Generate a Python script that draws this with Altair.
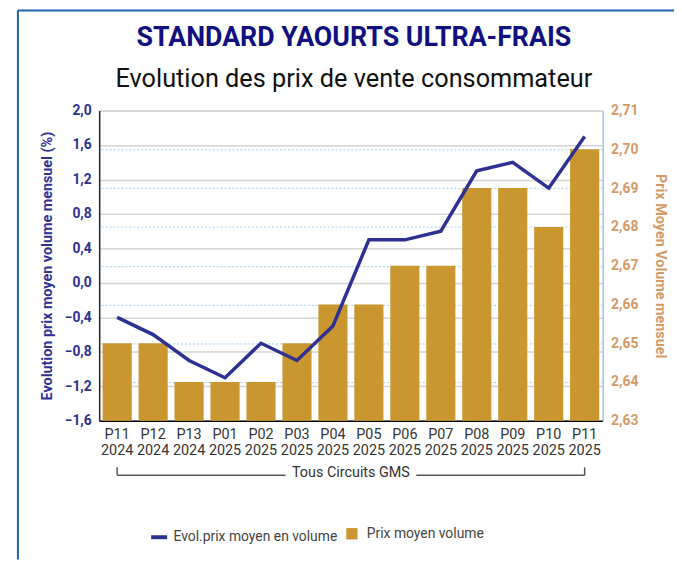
import altair as alt
import pandas as pd

# ---- data ----
periods = ["P11 2024", "P12 2024", "P13 2024", "P01 2025", "P02 2025", "P03 2025",
           "P04 2025", "P05 2025", "P06 2025", "P07 2025", "P08 2025", "P09 2025",
           "P10 2025", "P11 2025"]
evol_pct = [-0.4, -0.6, -0.9, -1.1, -0.7, -0.9, -0.5, 0.5, 0.5, 0.6, 1.3, 1.4, 1.1, 1.7]
prix_moyen = [2.65, 2.65, 2.64, 2.64, 2.64, 2.65, 2.66, 2.66, 2.67, 2.67, 2.69, 2.69, 2.68, 2.70]
left_ticks = [-1.6, -1.2, -0.8, -0.4, 0.0, 0.4, 0.8, 1.2, 1.6, 2.0]
right_ticks = [2.63, 2.64, 2.65, 2.66, 2.67, 2.68, 2.69, 2.70, 2.71]
line_name = "Evol.prix moyen en volume"
bar_name = "Prix moyen volume"
group_label = "Tous Circuits GMS"
title_text = "STANDARD YAOURTS ULTRA-FRAIS"
subtitle_text = "Evolution des prix de vente consommateur"

df = pd.DataFrame({
    "period": periods,
    "evol": evol_pct,
    "prix": prix_moyen,
    "s_line": [line_name] * len(periods),
    "s_bar": [bar_name] * len(periods),
})

W, H = 508, 313
NAVY = "#2e3192"
GOLD = "#c9962f"
TAN = "#d49a66"
FONT = "Roboto"

x_enc = alt.X(
    "period:N", sort=periods,
    scale=alt.Scale(paddingInner=0.19, paddingOuter=0.095),
    axis=alt.Axis(title=None, labelAngle=0, labelExpr="split(datum.value, ' ')",
                  labelFontSize=14.5, labelColor="#333333", labelFont=FONT,
                  labelLineHeight=16, labelPadding=7, ticks=False,
                  domainColor="#000000", domainWidth=1.5, grid=False),
)

bars = alt.Chart(df).mark_bar(color=GOLD).encode(
    x=x_enc,
    y=alt.Y("prix:Q",
            scale=alt.Scale(domain=[right_ticks[0], right_ticks[-1]], nice=False, zero=False),
            axis=alt.Axis(orient="right", values=right_ticks,
                          labelExpr="replace(format(datum.value, '.2f'), '.', ',')",
                          title="Prix Moyen Volume mensuel", titleColor=TAN,
                          titleFontSize=14.5, titleFontWeight="bold", titleFont=FONT,
                          titlePadding=15,
                          labelColor=TAN, labelFontSize=14, labelFontWeight="bold",
                          labelFont=FONT, labelPadding=8, ticks=False,
                          domainColor="#9fcbf2", domainWidth=1.5,
                          grid=True, gridColor="#9fcbf2", gridDash=[2, 2], gridWidth=1)),
    y2=alt.datum(right_ticks[0]),
    color=alt.Color("s_bar:N", scale=alt.Scale(domain=[bar_name], range=[GOLD]),
                    legend=alt.Legend(orient="none", legendX=248, legendY=420, title=None,
                                      symbolType="square", symbolSize=130, padding=0,
                                      labelOffset=8, labelFontSize=14, labelColor="#444444",
                                      labelFont=FONT, labelLimit=400)),
)

line = alt.Chart(df).mark_line(strokeWidth=3.5).encode(
    x=x_enc,
    y=alt.Y("evol:Q",
            scale=alt.Scale(domain=[left_ticks[0], left_ticks[-1]], nice=False, zero=False),
            axis=alt.Axis(orient="left", values=left_ticks,
                          labelExpr="replace(format(datum.value, '.1f'), '.', ',')",
                          title="Evolution prix moyen volume mensuel (%)", titleColor=NAVY,
                          titleFontSize=14.5, titleFontWeight="bold", titleFont=FONT,
                          titlePadding=10,
                          labelColor=NAVY, labelFontSize=14, labelFontWeight="bold",
                          labelFont=FONT, labelPadding=8, ticks=False,
                          domainColor="#222222", domainWidth=1.5,
                          grid=True, gridColor="#d4d4d4", gridWidth=1.5)),
    color=alt.Color("s_line:N", scale=alt.Scale(domain=[line_name], range=[NAVY]),
                    legend=alt.Legend(orient="none", legendX=50, legendY=420, title=None,
                                      symbolType="stroke", symbolStrokeWidth=4,
                                      symbolSize=260, padding=0, labelOffset=4,
                                      labelFontSize=14, labelColor="#444444",
                                      labelFont=FONT, labelLimit=400)),
)

# bracket under the category axis
ends_df = pd.DataFrame({"period": [periods[0], periods[-1]]})
first_df = pd.DataFrame({"period": [periods[0]]})
last_df = pd.DataFrame({"period": [periods[-1]]})
BR = "#555555"
br_ticks = alt.Chart(ends_df).mark_rule(color=BR, strokeWidth=1.5).encode(
    x=x_enc, y=alt.value(360), y2=alt.value(368))
br_left = alt.Chart(first_df).mark_rule(color=BR, strokeWidth=1.5).encode(
    x=x_enc, x2=alt.value(W / 2 - 66), y=alt.value(368))
br_right = alt.Chart(last_df).mark_rule(color=BR, strokeWidth=1.5).encode(
    x=x_enc, x2=alt.value(W / 2 + 66), y=alt.value(368))
br_text = alt.Chart(first_df).mark_text(fontSize=14.5, font=FONT, color="#333333",
                                        baseline="middle", align="center").encode(
    x=alt.value(W / 2), y=alt.value(366), text=alt.value(group_label))

# titles as text marks
title_mark = alt.Chart(first_df).mark_text(fontSize=27, font=FONT, fontWeight="bold",
                                           color="#10107f", baseline="alphabetic",
                                           align="center").encode(
    x=alt.value(W / 2 + 3), y=alt.value(-65), text=alt.value(title_text))
subtitle_mark = alt.Chart(first_df).mark_text(fontSize=25.5, font=FONT, color="#111111",
                                              baseline="alphabetic", align="center").encode(
    x=alt.value(W / 2 + 3), y=alt.value(-24), text=alt.value(subtitle_text))

# frame lines (decoration)
frame_df = pd.DataFrame({"a": [0]})
frame_left = alt.Chart(frame_df).mark_rule(color="#1f62b5", strokeWidth=2).encode(
    x=alt.value(-82), y=alt.value(-101), y2=alt.value(H + 140))
frame_top = alt.Chart(frame_df).mark_rule(color="#1f62b5", strokeWidth=2).encode(
    x=alt.value(-82), x2=alt.value(W + 72), y=alt.value(-101))

chart = alt.layer(
    frame_left, frame_top, bars, line, br_ticks, br_left, br_right, br_text,
    title_mark, subtitle_mark
).resolve_scale(
    y="independent", color="independent"
).properties(
    width=W, height=H,
    autosize=alt.AutoSizeParams(type="none"),
    padding={"left": 92, "top": 101, "right": 72, "bottom": 140},
).configure_view(stroke=None).configure(background="white")

chart.save("out.html", embed_options={"renderer": "svg", "actions": False})
